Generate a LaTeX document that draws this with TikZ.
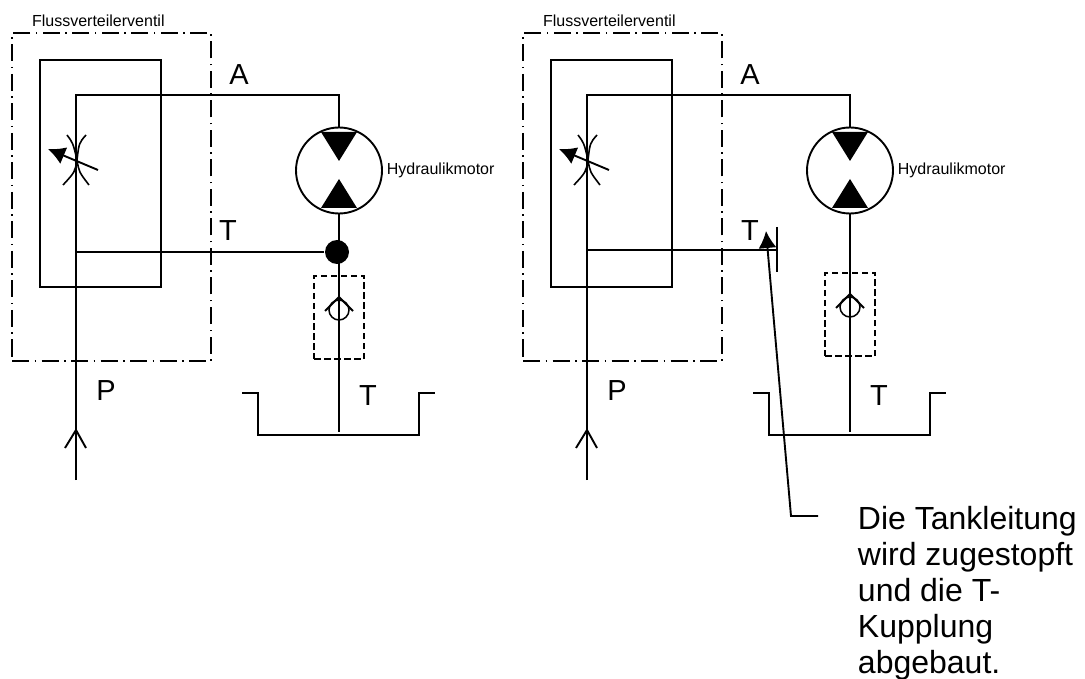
\documentclass[tikz,border=0pt]{standalone}
\usepackage{fontspec}
\setmainfont{Liberation Sans}
\usetikzlibrary{positioning,arrows.meta}

\begin{document}
\begin{tikzpicture}[x=1pt,y=-1pt,line width=1.9pt,
    smalltext/.style={inner sep=0pt,font=\fontsize{16}{18}\selectfont},
    porttext/.style={inner sep=0pt,font=\fontsize{29}{31}\selectfont},
    dotbox/.style={draw,line width=1.7pt,dash pattern=on 17pt off 5.5pt on 1.5pt off 5.5pt,minimum width=199pt,minimum height=328pt,inner sep=0pt},
    valvebox/.style={draw,line width=1.7pt,minimum width=121pt,minimum height=227pt,inner sep=0pt},
    checkbox/.style={draw,line width=1.7pt,dash pattern=on 6.5pt off 3.5pt,minimum width=50pt,minimum height=83pt,inner sep=0pt},
    motor/.style={circle,draw,minimum size=86pt,inner sep=0pt},
    ball/.style={circle,draw,line width=1.5pt,minimum size=20pt,inner sep=0pt},
    junction/.style={circle,fill,minimum size=24pt,inner sep=0pt},
    pointer/.style={-{Latex[length=17pt,width=18pt]}}]
  \useasboundingbox (0,0) rectangle (1085,679);
  \foreach \s/\dx/\dy in {l/0/0,r/511/-3}{
    \begin{scope}[xshift=\dx pt]
      % housing and valve
      \node[dotbox](box\s) at (111.5,197){};
      \node[smalltext,above right=5pt and 20pt of box\s.north west](flow\s){Flussverteilerventil};
      \node[valvebox](valve\s) at (100.5,173.5){};
      % pump line
      \coordinate (in\s) at (76,480);
      \coordinate (up\s) at (76,95);
      \node[motor](mot\s) at (339,170.5){};
      \draw (in\s) -- (up\s) -| (mot\s.north);
      \draw (65,448) -- (76,430) -- (86,448);
      % throttle
      \coordinate (th\s) at (77,160);
      \draw[line width=1.6pt] (67,135) .. controls (73,143) .. (th\s) .. controls (75,172) .. (63,185);
      \draw[line width=1.6pt] (86,135) .. controls (79,143) .. (th\s) .. controls (79,172) .. (89,185);
      \draw[pointer] (98,170) -- (48,149);
      % motor triangles
      \fill (321,132) -- (357,132) -- (339,161) -- cycle;
      \fill (321,208) -- (357,208) -- (339,179) -- cycle;
      \node[smalltext,right=3pt of mot\s](hyd\s){Hydraulikmotor};
      % tank
      \coordinate (bot\s) at (339,432);
      \draw (mot\s.south) -- (bot\s);
      \draw (242,393) -- (258,393) -- (258,435) -- (419,435) -- (419,393) -- (435,393);
      % check valve
      \node[checkbox](chk\s) at (339,317.5+\dy){};
      \node[ball](ball\s) at (339,310+\dy){};
      \draw (325,311+\dy) -- (339,297+\dy) -- (353,311+\dy);
      % labels
      \node[porttext](a\s) at (239,75){A};
      \node[porttext](p\s) at (106,391){P};
      \node[porttext](t\s) at (368,396){T};
    \end{scope}
  }
  \node[porttext](tl) at (228,231){T};
  \node[porttext](tr) at (750,231){T};
  % left return line
  \node[junction](dot) at (337,252){};
  \coordinate (retl) at (76,252);
  \draw (retl) -- (dot);
  % right return line, plugged
  \coordinate (retr) at (587,250);
  \coordinate (stop) at (777,250);
  \draw (retr) -- (stop);
  \draw (777,227) -- (777,272);
  % note
  \node[inner sep=0pt,anchor=north west,align=left,font=\fontsize{32}{36}\selectfont](note) at (857,505){Die Tankleitung\\wird zugestopft\\und die T-\\Kupplung\\abgebaut.};
  \coordinate (tip) at (766,231);
  \coordinate (knee) at (791,516);
  \coordinate (tail) at (818,516);
  \draw[pointer] (tail) -- (knee) -- (tip);
\end{tikzpicture}
\end{document}
